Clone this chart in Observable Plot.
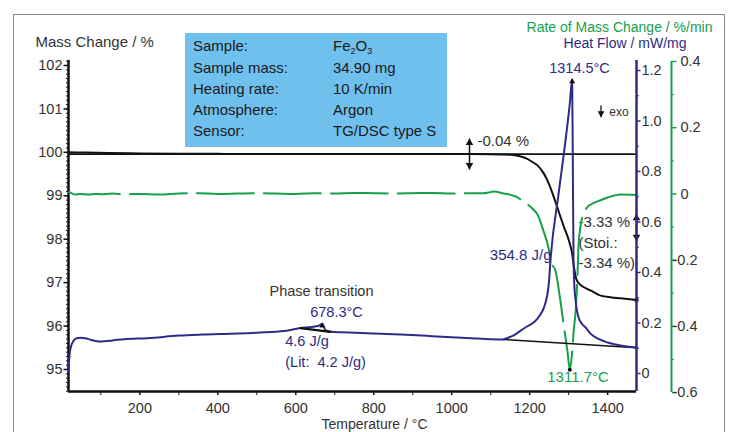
<!DOCTYPE html>
<html><head><meta charset="utf-8">
<script src="https://cdn.jsdelivr.net/npm/d3@7"></script>
<script src="https://cdn.jsdelivr.net/npm/@observablehq/plot@0.6"></script>
<style>
body{margin:0;background:#fff;}
#wrap{position:relative;width:729px;height:432px;overflow:hidden;font-family:"Liberation Sans",Arial,sans-serif;background:#fff;}
#wrap svg{position:absolute;left:0;top:0;}
#frame{position:absolute;left:13px;top:14px;width:710px;height:440px;border:1.5px solid #8a8a8a;}
#info{position:absolute;left:185px;top:33px;width:262px;height:114px;background:#70c0ee;color:#1a1a1a;font-size:15px;}
#info div{position:absolute;line-height:17px;white-space:pre;}
#info sub{font-size:9px;vertical-align:-3px;line-height:0;}
</style></head>
<body>
<div id="wrap">
  <div id="frame"></div>
  <div id="info"></div>
</div>
<script>
// ---------------- data ----------------
const T0 = 17, T1 = 1474;                    // temperature range, °C
const tempTicks = [200, 400, 600, 800, 1000, 1200, 1400];
const tempMinorTicks = [100, 300, 500, 700, 900, 1100, 1300];
const massTicks = [95, 96, 97, 98, 99, 100, 101, 102];
const hfTicks = [0, 0.2, 0.4, 0.6, 0.8, 1.0, 1.2];
const hfMinorTicks = [0.1, 0.3, 0.5, 0.7, 0.9, 1.1];
const rateTicks = [-0.6, -0.4, -0.2, 0, 0.2, 0.4];
const rateMinorTicks = [-0.5, -0.3, -0.1, 0.1, 0.3];

// Mass change / %
const massT = [17, 60, 120, 200, 300, 400, 600, 800, 1000, 1100, 1151, 1175, 1194, 1210, 1220, 1236.5, 1249, 1262, 1275, 1288, 1300.6, 1309, 1313.5, 1319, 1325.5, 1336, 1356, 1382, 1410, 1433, 1474];
const massV = [100.0, 99.995, 99.985, 99.975, 99.968, 99.965, 99.963, 99.962, 99.96, 99.958, 99.945, 99.91, 99.85, 99.76, 99.70, 99.51, 99.28, 98.97, 98.62, 98.28, 97.97, 97.66, 97.36, 97.10, 96.99, 96.91, 96.82, 96.70, 96.66, 96.64, 96.60];
const massStep = 99.96;   // level after -0.04 %

// Heat flow / mW/mg
const hfT = [17, 20, 24, 28, 35, 48, 60, 75, 90, 100, 130, 160, 220, 300, 360, 450, 520, 580, 612, 640, 660, 668, 676, 690, 720, 800, 870, 950, 1000, 1050, 1100, 1133, 1143, 1160, 1177, 1195, 1211, 1225, 1237, 1245, 1249, 1254, 1274, 1295, 1303, 1309, 1311, 1312.5, 1314.5, 1317, 1320, 1325.5, 1335, 1343.5, 1356, 1375, 1400, 1433, 1474];
const hfV = [0.01, 0.08, 0.11, 0.125, 0.138, 0.142, 0.14, 0.133, 0.128, 0.127, 0.131, 0.136, 0.14, 0.15, 0.154, 0.158, 0.163, 0.17, 0.18, 0.184, 0.19, 0.197, 0.172, 0.165, 0.163, 0.158, 0.154, 0.148, 0.144, 0.14, 0.136, 0.135, 0.141, 0.152, 0.17, 0.188, 0.203, 0.228, 0.263, 0.31, 0.355, 0.461, 0.71, 0.962, 1.07, 1.164, 0.75, 0.45, 0.35, 0.30, 0.26, 0.222, 0.195, 0.182, 0.158, 0.138, 0.123, 0.111, 0.103];
const peakBaseT = [1133, 1474], peakBaseV = [0.135, 0.102];
const phaseBaseT = [612, 689], phaseBaseV = [0.180, 0.165];

// Rate of mass change / %/min
const rateT = [17, 22, 28, 35, 45, 55, 70, 85, 100, 130, 160, 200, 250, 300, 350, 400, 450, 500, 550, 600, 650, 700, 750, 800, 850, 900, 950, 1000, 1050, 1080, 1110, 1130, 1151, 1165, 1177, 1195, 1210, 1220, 1236, 1248.5, 1254, 1266.5, 1279, 1287, 1297, 1303, 1309, 1312.7, 1317.8, 1323, 1325.5, 1335, 1348, 1364, 1380, 1400, 1433, 1474];
const rateV = [0.005, 0.004, 0.0, -0.002, 0.0, -0.001, -0.002, 0.0, -0.001, 0.001, -0.001, 0.0, -0.002, 0.001, 0.002, 0.0, 0.001, 0.002, 0.001, 0.0, 0.002, 0.001, 0.003, 0.002, 0.001, 0.002, 0.003, 0.001, 0.002, 0.002, 0.007, 0.002, -0.003, -0.008, -0.017, -0.032, -0.048, -0.062, -0.114, -0.165, -0.204, -0.234, -0.325, -0.394, -0.476, -0.531, -0.476, -0.416, -0.356, -0.234, -0.153, -0.07, -0.04, -0.028, -0.02, -0.011, -0.002, -0.003];

// annotations (data coordinates)
const massNotes = [
  {t: 1066, v: 100.266, s: "-0.04 %"},
  {t: 1325, v: 98.40, s: "-3.33 %"},
  {t: 1325, v: 97.91, s: "(Stoi.:"},
  {t: 1325, v: 97.45, s: "-3.34 %)"}
];
const massArrows = [{t: 1045.6, top: 100.32, bottom: 99.605}, {t: 1474, top: 98.583, bottom: 97.953}];
const hfNotesMid = [{t: 1327.8, v: 1.208, s: "1314.5°C"}, {t: 704.5, v: 0.2416, s: "678.3°C"}];
const hfNotesEnd = [{t: 1256, v: 0.469, s: "354.8 J/g"}];
const hfNotesStart = [{t: 573, v: 0.1267, s: "4.6 J/g"}, {t: 573, v: 0.0455, s: "(Lit:  4.2 J/g)"}];
const phaseLabel = [{t: 666, v: 0.3255, s: "Phase transition"}];
const exoLabel = [{t: 1404, v: 1.035, s: "exo"}];
const exoArrow = [{t: 1383, top: 1.061, bottom: 1.015}];
const hfPeaks = [{t: 1309, v: 1.164}, {t: 668, v: 0.197}];
const rateNotes = [{t: 1324, v: -0.5526, s: "1311.7°C"}];
const rateMin = [{t: 1303, v: -0.531}];
const infoRows = [
  ["Sample:", "Fe<sub>2</sub>O<sub>3</sub>"],
  ["Sample mass:", "34.90 mg"],
  ["Heating rate:", "10 K/min"],
  ["Atmosphere:", "Argon"],
  ["Sensor:", "TG/DSC type S"]
];

// ---------------- drawing ----------------
const NAVY = "#2e2b88", GREEN = "#17a04c", INK = "#111", TXT = "#333";
const FONT = "'Liberation Sans', Arial, sans-serif";
const W = 729, H = 432, ML = 68, MR = 93;
const style = `background:transparent;overflow:visible;font-family:${FONT};font-size:14.5px;`;
const fmt1 = d => d === 0 ? "0" : d.toFixed(1);

const mass = massT.map((t, i) => ({t, v: massV[i]}));
const hf = hfT.map((t, i) => ({t, v: hfV[i]}));
const rate = rateT.map((t, i) => ({t, v: rateV[i]}));
const peakBase = peakBaseT.map((t, i) => ({t, v: peakBaseV[i]}));
const phaseBase = phaseBaseT.map((t, i) => ({t, v: phaseBaseV[i]}));

const massMinorTicks = d3.range(945, 1022).map(d => d / 10);

const layerMass = Plot.plot({
  width: W, height: H, marginLeft: ML, marginRight: MR, marginTop: 60, marginBottom: 41,
  style,
  x: {domain: [T0, T1], label: null},
  y: {domain: [94.493, 102.115], label: null},
  marks: [
    Plot.axisY({ticks: massMinorTicks, tickSize: 2, tickFormat: () => "", stroke: INK, label: null}),
    Plot.axisY({ticks: massTicks, tickSize: 4.5, tickPadding: 1.5, stroke: INK, strokeWidth: 1.5, fill: TXT, fontSize: 14.5, label: null}),
    Plot.axisX({ticks: tempMinorTicks, tickSize: 4, tickFormat: () => "", stroke: INK, label: null}),
    Plot.axisX({ticks: tempTicks, tickSize: 4, tickPadding: 7, tickFormat: d => String(d), stroke: INK, strokeWidth: 1.5, fill: TXT, fontSize: 14.5, label: null}),
    Plot.ruleX([T0], {stroke: INK, strokeWidth: 2.5}),
    Plot.ruleY([94.493], {stroke: INK, strokeWidth: 2.5}),
    Plot.ruleY([massStep], {x1: T0, x2: T1, stroke: INK, strokeWidth: 1.8}),
    Plot.line(mass, {x: "t", y: "v", stroke: INK, strokeWidth: 2, curve: "monotone-x"}),
    Plot.dot([mass[mass.length - 1]], {x: "t", y: "v", r: 2.2, fill: INK}),
    Plot.link(massArrows, {x1: "t", x2: "t", y1: "top", y2: "bottom", stroke: INK, strokeWidth: 1.5}),
    Plot.dot(massArrows, {x: "t", y: "top", symbol: "triangle", r: 2.8, fill: INK, dy: 4.3}),
    Plot.dot(massArrows, {x: "t", y: "bottom", symbol: "triangle", r: 2.8, fill: INK, rotate: 180, dy: -4.3}),
    Plot.text(massNotes, {x: "t", y: "v", text: "s", textAnchor: "start", fill: TXT, fontSize: 15}),
    Plot.text(["Mass Change / %"], {frameAnchor: "top-left", lineAnchor: "middle", textAnchor: "start", dx: -33, dy: -18, fill: TXT, fontSize: 15}),
    Plot.text([{t: 802, s: "Temperature / °C"}], {x: "t", text: "s", frameAnchor: "bottom", lineAnchor: "middle", dy: 33, fill: TXT, fontSize: 14})
  ]
});

const layerRate = Plot.plot({
  width: W, height: H, marginLeft: ML, marginRight: MR, marginTop: 61, marginBottom: 40,
  style,
  x: {domain: [T0, T1], axis: null},
  y: {domain: [-0.6, 0.4], label: null},
  marks: [
    Plot.ruleX([T1], {dx: 35, stroke: GREEN, strokeWidth: 2}),
    Plot.axisY({anchor: "right", dx: 35, ticks: rateMinorTicks, tickSize: 2, tickFormat: () => "", stroke: GREEN, label: null}),
    Plot.axisY({anchor: "right", dx: 35, ticks: rateTicks, tickSize: 4.5, tickFormat: () => "", stroke: GREEN, strokeWidth: 1.5, label: null}),
    Plot.text(rateTicks.filter(d => d < 0), {y: d => d, frameAnchor: "right", lineAnchor: "middle", textAnchor: "start", dx: 36, text: fmt1, fill: TXT, fontSize: 14.5}),
    Plot.text(rateTicks.filter(d => d >= 0), {y: d => d, frameAnchor: "right", lineAnchor: "middle", textAnchor: "start", dx: 44, text: fmt1, fill: TXT, fontSize: 14.5}),
    Plot.line(rate, {x: "t", y: "v", stroke: GREEN, strokeWidth: 2, curve: "monotone-x", strokeDasharray: "57,10", strokeDashoffset: 5}),
    Plot.dot(rateMin, {x: "t", y: "v", r: 2, fill: INK}),
    Plot.text(rateNotes, {x: "t", y: "v", text: "s", fill: GREEN, fontSize: 15}),
    Plot.text(["Rate of Mass Change / %/min"], {frameAnchor: "top-right", lineAnchor: "middle", textAnchor: "end", dx: 76, dy: -34, fill: GREEN, fontSize: 14})
  ]
});

const layerHF = Plot.plot({
  width: W, height: H, marginLeft: ML, marginRight: MR, marginTop: 60, marginBottom: 41,
  style,
  x: {domain: [T0, T1], axis: null},
  y: {domain: [-0.0713, 1.2396], label: null},
  marks: [
    Plot.ruleX([T1], {stroke: NAVY, strokeWidth: 2.5}),
    Plot.axisY({anchor: "right", ticks: hfMinorTicks, tickSize: 2, tickFormat: () => "", stroke: NAVY, label: null}),
    Plot.axisY({anchor: "right", ticks: hfTicks, tickSize: 3.5, tickPadding: 1.5, tickFormat: fmt1, stroke: NAVY, strokeWidth: 1.5, fill: TXT, fontSize: 14.5, label: null}),
    Plot.line(peakBase, {x: "t", y: "v", stroke: INK, strokeWidth: 1.6}),
    Plot.line(hf, {x: "t", y: "v", stroke: NAVY, strokeWidth: 2, curve: "monotone-x"}),
    Plot.line(phaseBase, {x: "t", y: "v", stroke: INK, strokeWidth: 2.2}),
    Plot.dot(hfPeaks, {x: "t", y: "v", symbol: "triangle", r: 2.2, fill: INK, dy: 2}),
    Plot.link(exoArrow, {x1: "t", x2: "t", y1: "top", y2: "bottom", stroke: INK, strokeWidth: 1.3}),
    Plot.dot(exoArrow, {x: "t", y: "bottom", symbol: "triangle", r: 2.6, fill: INK, rotate: 180, dy: -4}),
    Plot.text(exoLabel, {x: "t", y: "v", text: "s", textAnchor: "start", fill: TXT, fontSize: 12}),
    Plot.text(hfNotesMid, {x: "t", y: "v", text: "s", fill: NAVY, fontSize: 14.5}),
    Plot.text(hfNotesEnd, {x: "t", y: "v", text: "s", textAnchor: "end", fill: NAVY, fontSize: 15}),
    Plot.text(hfNotesStart, {x: "t", y: "v", text: "s", textAnchor: "start", fill: NAVY, fontSize: 14.5}),
    Plot.text(phaseLabel, {x: "t", y: "v", text: "s", fill: TXT, fontSize: 14.5}),
    Plot.text(["Heat Flow / mW/mg"], {frameAnchor: "top-right", lineAnchor: "middle", textAnchor: "end", dx: 50, dy: -17, fill: NAVY, fontSize: 14})
  ]
});

const wrap = document.getElementById("wrap");
wrap.append(layerMass, layerRate, layerHF);

const info = document.getElementById("info");
const rowTops = [4.2, 25.5, 46.8, 68.1, 89.4];
infoRows.forEach((r, i) => {
  const a = document.createElement("div");
  a.style.left = "8px"; a.style.top = rowTops[i] + "px"; a.textContent = r[0];
  const b = document.createElement("div");
  b.style.left = "148px"; b.style.top = rowTops[i] + "px"; b.innerHTML = r[1];
  info.append(a, b);
});
</script>
</body></html>
